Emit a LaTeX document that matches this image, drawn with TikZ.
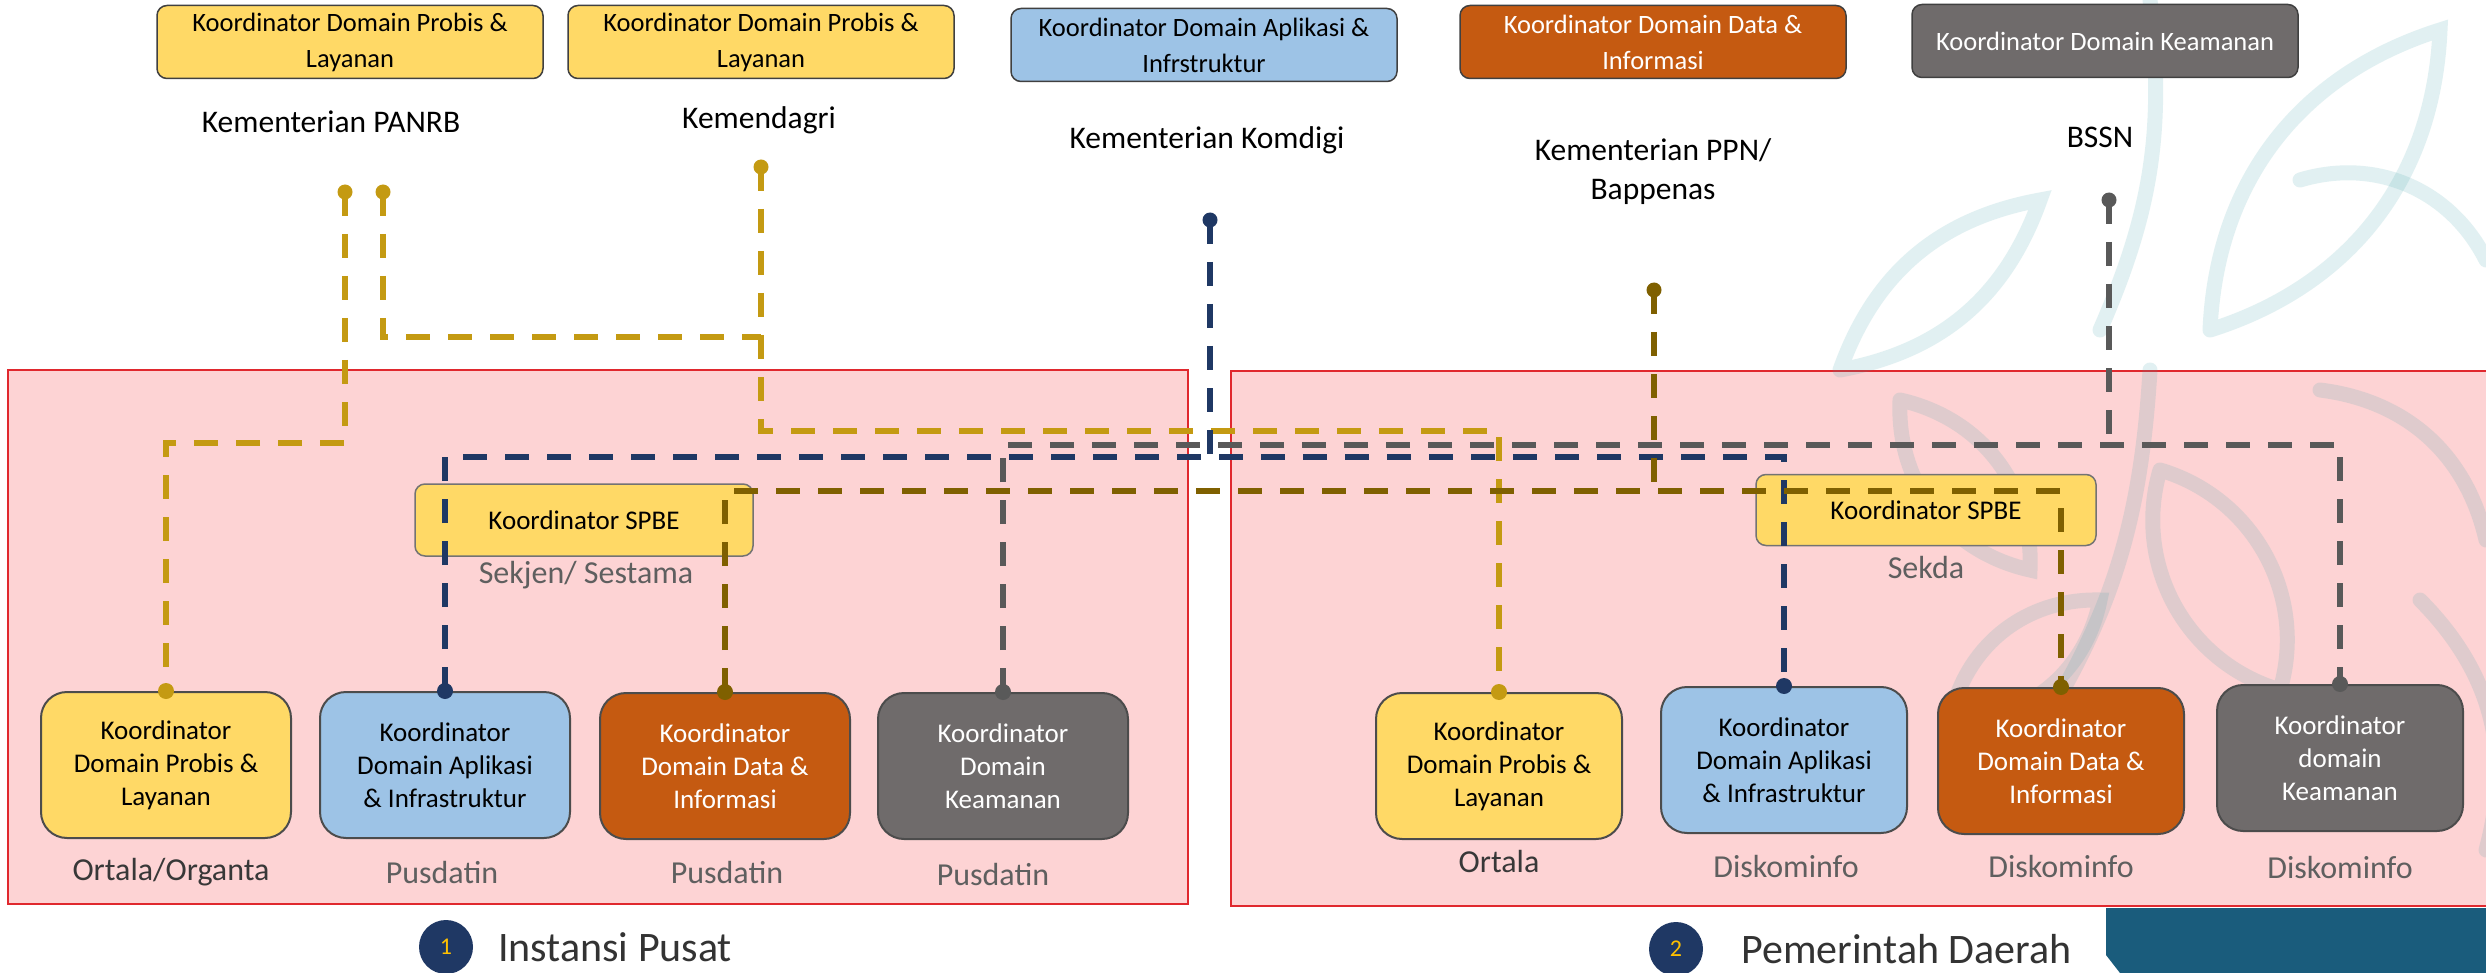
\documentclass[tikz,border=0pt]{standalone}
\usepackage{fontspec}
\setmainfont{Carlito}
\usetikzlibrary{calc}
\definecolor{yfill}{HTML}{FFD966}
\definecolor{bfill}{HTML}{9DC3E6}
\definecolor{ofill}{HTML}{C55A11}
\definecolor{gfill}{HTML}{6F6B6B}
\definecolor{goldl}{HTML}{C49A12}
\definecolor{olivel}{HTML}{7F6000}
\definecolor{navyl}{HTML}{1F3864}
\definecolor{grayl}{HTML}{595959}
\definecolor{pinkbg}{HTML}{FDD3D4}
\definecolor{redb}{HTML}{E0282E}
\definecolor{tealc}{HTML}{1A5C7C}
\definecolor{subgray}{HTML}{5F5F5F}
\definecolor{numyel}{HTML}{FFC000}
\definecolor{wmark}{HTML}{3AA0A8}
\begin{document}
\begin{tikzpicture}[x=1pt,y=-1pt,
  topbox/.style={draw=black!75, line width=1.5pt, rounded corners=10pt, minimum width=386pt, minimum height=73pt, inner sep=0pt, align=center, font=\fontsize{26.5}{36}\selectfont},
  botbox/.style={draw=black!70, line width=2pt, rounded corners=26pt, minimum width=250pt, minimum height=146pt, inner sep=0pt, align=center, font=\fontsize{27}{33}\selectfont},
  spbe/.style={draw=black!55, line width=1.5pt, fill=yfill, rounded corners=10pt, minimum width=338pt, minimum height=72pt, inner sep=0pt, font=\fontsize{27}{32}\selectfont},
  minlab/.style={font=\fontsize{31.5}{39}\selectfont, align=center, inner sep=0pt},
  sublab/.style={font=\fontsize{32}{38}\selectfont, text=subgray, inner sep=0pt},
  conn/.style={line width=6.5pt, dash pattern=on 24pt off 18pt},
  pindot/.style={circle, inner sep=0pt, minimum size=15pt},
  numc/.style={circle, fill=navyl, minimum size=54pt, inner sep=0pt, text=numyel, font=\fontsize{24}{28}\selectfont},
  titlab/.style={anchor=west, font=\fontsize{42}{48}\selectfont, text=black!80, inner sep=0pt},
  wm/.style={draw=wmark, draw opacity=0.15, line width=15pt, line cap=round}
]
\useasboundingbox (0,0) rectangle (2486,973);
\fill[white] (0,0) rectangle (2486,973);

% region boxes
\draw[redb, line width=2pt, fill=pinkbg] (8,370) rectangle (1188,904);
\draw[redb, line width=2pt, fill=pinkbg] (1231,371) -- (2490,371) -- (2490,906) -- (1231,906) -- cycle;

% faint watermark leaves
\draw[wm] (2210,330) to[bend left=35] (2440,30) to[bend left=35] (2210,330);
\draw[wm] (2300,180) to[bend left=40] (2486,260);
\draw[wm] (1840,370) to[bend left=30] (2040,200) to[bend left=30] (1840,370);
\draw[wm] (2150,0) to[bend left=15] (2100,330);
\draw[wm] (2160,470) to[bend left=45] (2280,690) to[bend left=45] (2160,470);
\draw[wm] (1900,400) to[bend left=40] (2030,570) to[bend left=40] (1900,400);
\draw[wm] (2320,390) to[bend left=35] (2486,540);
\draw[wm] (1950,720) to[bend left=40] (2100,600) to[bend left=40] (1950,720);
\draw[wm] (2150,370) to[bend left=15] (2020,760);
\draw[wm] (2420,600) to[bend left=30] (2486,850);

% top boxes
\node[topbox, fill=yfill] (t1) at (350,42) {Koordinator Domain Probis \&\\Layanan};
\node[topbox, fill=yfill] (t2) at (761,42) {Koordinator Domain Probis \&\\Layanan};
\node[topbox, fill=bfill] (t3) at (1204,45) {Koordinator Domain Aplikasi \&\\Infrstruktur};
\node[topbox, fill=ofill, text=white] (t4) at (1653,42) {Koordinator Domain Data \&\\Informasi};
\node[topbox, fill=gfill, text=white] (t5) at (2105,41) {Koordinator Domain Keamanan};

% ministry labels
\node[minlab] (m1) at (331,122) {Kementerian PANRB};
\node[minlab] (m2) at (759,120) {Kemendagri};
\node[minlab] (m3) at (1207,140) {Kementerian Komdigi};
\node[minlab] (m4) at (1653,172) {Kementerian PPN/\\Bappenas};
\node[minlab] (m5) at (2100,137) {BSSN};

% SPBE boxes
\node[spbe] (s1) at (584,520) {Koordinator SPBE};
\node[sublab] (s1l) at (586,575) {Sekjen/ Sestama};
\node[spbe, minimum width=340pt, minimum height=71pt] (s2) at (1926,510) {Koordinator SPBE};
\node[sublab] (s2l) at (1926,568) {Sekda};

% bottom boxes
\node[botbox, fill=yfill] (L1) at (166,765) {Koordinator\\Domain Probis \&\\Layanan};
\node[botbox, fill=bfill] (L2) at (445,765) {Koordinator\\Domain Aplikasi\\\& Infrastruktur};
\node[botbox, fill=ofill, text=white] (L3) at (725,766) {Koordinator\\Domain Data \&\\Informasi};
\node[botbox, fill=gfill, text=white] (L4) at (1003,766) {Koordinator\\Domain\\Keamanan};
\node[botbox, fill=yfill, minimum width=246pt] (R1) at (1499,766) {Koordinator\\Domain Probis \&\\Layanan};
\node[botbox, fill=bfill, minimum width=246pt] (R2) at (1784,760) {Koordinator\\Domain Aplikasi\\\& Infrastruktur};
\node[botbox, fill=ofill, text=white, minimum width=246pt] (R3) at (2061,761) {Koordinator\\Domain Data \&\\Informasi};
\node[botbox, fill=gfill, text=white, minimum width=246pt] (R4) at (2340,758) {Koordinator\\domain\\Keamanan};

% bottom labels
\node[sublab, text=black!78] (b1) at (171,872) {Ortala/Organta};
\node[sublab] (b2) at (442,873) {Pusdatin};
\node[sublab] (b3) at (727,873) {Pusdatin};
\node[sublab] (b4) at (993,875) {Pusdatin};
\node[sublab, text=black!78] (b5) at (1499,862) {Ortala};
\node[sublab] (b6) at (1786,867) {Diskominfo};
\node[sublab] (b7) at (2061,867) {Diskominfo};
\node[sublab] (b8) at (2340,868) {Diskominfo};

% pins
\node[pindot, fill=goldl] (pA) at (345,192) {};
\node[pindot, fill=goldl] (pB) at (383,192) {};
\node[pindot, fill=goldl] (pC) at (761,167) {};
\node[pindot, fill=navyl] (pD) at (1210,220) {};
\node[pindot, fill=olivel] (pF) at (1654,290) {};
\node[pindot, fill=grayl] (pE) at (2109,200) {};

% bends
\coordinate (a1) at (345,443);
\coordinate (b1c) at (761,337);
\coordinate (c1) at (761,431);
\coordinate (d1) at (1210,457);
\coordinate (e1) at (2109,445);
\coordinate (f1) at (1654,491);

% connectors
\draw[conn, goldl] (pA.center) -- (a1) -| (L1.north);
\draw[conn, goldl] (pB.center) |- (b1c);
\draw[conn, goldl] (pC.center) -- (c1) -| (R1.north);
\draw[conn, navyl] (pD.center) -- (d1);
\draw[conn, navyl] (L2.north) |- (d1) -| (R2.north);
\draw[conn, grayl] (pE.center) -- (e1);
\draw[conn, grayl] (L4.north) |- (e1) -| (R4.north);
\draw[conn, olivel] (pF.center) -- (f1);
\draw[conn, olivel] (L3.north) |- (f1) -| (R3.north);

% end dots
\fill[goldl] (L1.north) circle[radius=8pt];
\fill[navyl] (L2.north) circle[radius=8pt];
\fill[olivel] (L3.north) circle[radius=8pt];
\fill[grayl] (L4.north) circle[radius=8pt];
\fill[goldl] (R1.north) circle[radius=8pt];
\fill[navyl] (R2.north) circle[radius=8pt];
\fill[olivel] (R3.north) circle[radius=8pt];
\fill[grayl] (R4.north) circle[radius=8pt];

% section titles
\node[numc] (n1) at (446,947) {1};
\node[titlab] (ip) at (498,947) {Instansi Pusat};
\node[numc] (n2) at (1676,949) {2};
\node[titlab] (pd) at (1741,949) {Pemerintah Daerah};

% teal corner block
\fill[tealc] (2106,908) -- (2486,908) -- (2486,973) -- (2120,973) -- (2106,955) -- cycle;
\end{tikzpicture}
\end{document}
